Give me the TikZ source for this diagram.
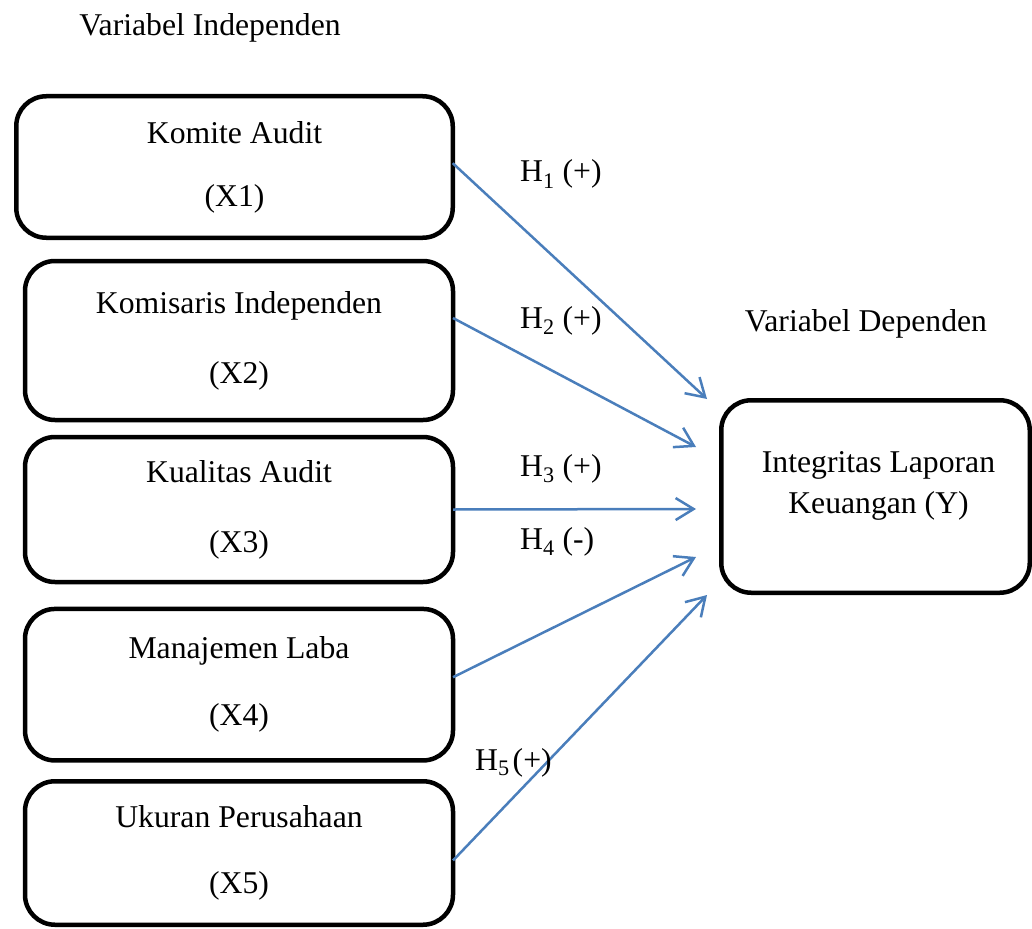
\documentclass[tikz,border=0pt]{standalone}
\usepackage{fontspec}
\setmainfont{Liberation Serif}
\usetikzlibrary{arrows.meta}
\definecolor{arrowblue}{RGB}{74,126,187}
\begin{document}
\begin{tikzpicture}[x=1pt,y=-1pt,
  box/.style={draw=black, line width=4.5pt, rounded corners=30pt, inner sep=0pt, outer sep=0pt, align=center, font=\fontsize{31.7}{38}\selectfont},
  txt/.style={inner sep=0pt, align=center, font=\fontsize{31.7}{38}\selectfont},
  hyp/.style={inner sep=0pt, anchor=base west, font=\fontsize{31.7}{38}\selectfont},
  arr/.style={draw=arrowblue, line width=2.5pt, -{Straight Barb[length=18pt,width=22pt]}}]
\useasboundingbox (0,0) rectangle (1032,928);

% headings
\node[txt, anchor=base] (hind) at (210,36) {Variabel Independen};
\node[txt, anchor=base] (hdep) at (866,331) {Variabel Dependen};

% independent variable boxes
\node[box, minimum width=436.5pt, minimum height=141.5pt] (b1) at (234.5,167) {Komite Audit\\[25pt](X1)};
\node[box, minimum width=428pt, minimum height=159pt] (b2) at (239,340.5) {Komisaris Independen\\[32pt](X2)};
\node[box, minimum width=428pt, minimum height=145pt] (b3) at (239,509.5) {Kualitas Audit\\[32pt](X3)};
\node[box, minimum width=428pt, minimum height=151.5pt] (b4) at (239,684.7) {Manajemen Laba\\[29pt](X4)};
\node[box, minimum width=428pt, minimum height=143.5pt] (b5) at (239,853) {Ukuran Perusahaan\\[28pt](X5)};

% dependent variable box
\node[box, minimum width=308.5pt, minimum height=192.5pt] (r) at (875.5,496.5) {};
\node[txt] (rt) at (878.5,485.5) {Integritas Laporan\\[3pt]Keuangan (Y)};

% arrow ends
\coordinate (t1) at (707,399);
\coordinate (t2) at (696,447);
\coordinate (t3) at (696,509);
\coordinate (t4) at (696,557);
\coordinate (t5) at (707,595);

\draw[arr] (b1.1.3) -- (t1);
\draw[arr] (b2.6.8) -- (t2);
\draw[arr] (b3.0) -- (t3);
\draw[arr] (b4.2.6) -- (t4);
\draw[arr] (b5.-2.7) -- (t5);

% hypothesis labels
\node[hyp] (h1) at (520,182) {H\textsubscript{1} (+)};
\node[hyp] (h2) at (520,328) {H\textsubscript{2} (+)};
\node[hyp] (h3) at (520,476) {H\textsubscript{3} (+)};
\node[hyp] (h4) at (520,549) {H\textsubscript{4} (-)};
\node[hyp] (h5) at (475,770) {H\textsubscript{5}\hspace{3pt}(+)};
\end{tikzpicture}
\end{document}
